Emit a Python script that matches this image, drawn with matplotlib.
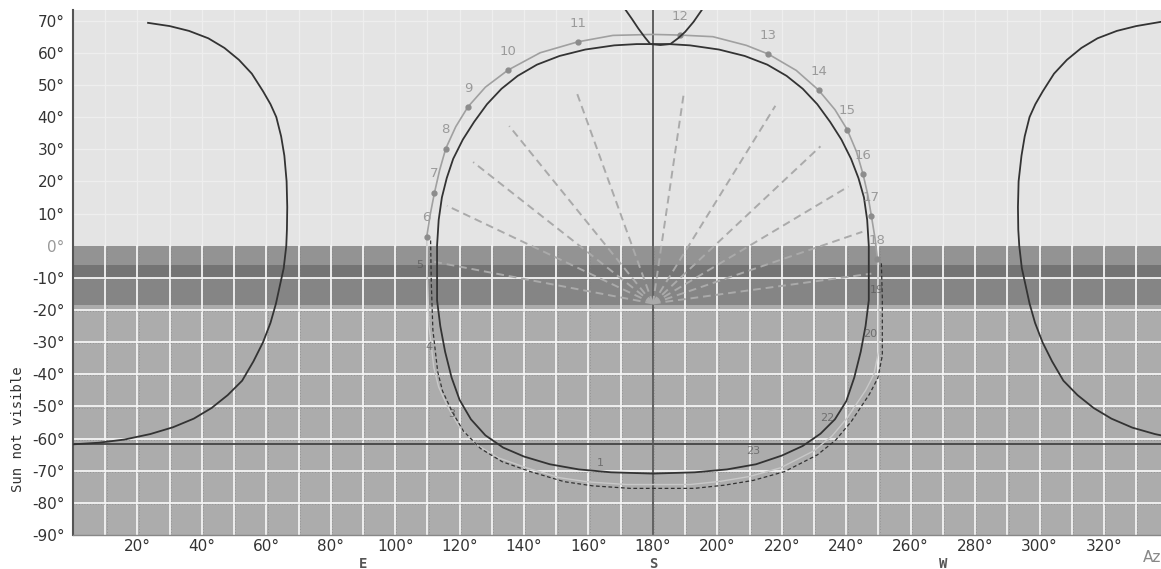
import matplotlib
matplotlib.use('Agg')
import matplotlib.pyplot as plt

# ----- data (azimuth deg, altitude deg) -----
HOURS = ['6', '7', '8', '9', '10', '11', '12', '13', '14', '15', '16', '17', '18']
HOUR_AZ = [109.8, 112.2, 115.7, 122.6, 135.0, 156.7, 188.5, 215.8, 231.4, 240.3, 245.2, 247.8, 249.7]
HOUR_ALT = [2.8, 16.5, 30.2, 43.2, 54.6, 63.4, 65.5, 59.6, 48.4, 36.1, 22.3, 9.3, -4.3]

# grey hour path (upper part, through the hour dots)
GREY_AZ = [109.8, 110.9, 112.2, 113.8, 115.7, 118.8, 122.6, 128.0, 135.0, 145.0, 156.7, 167.6,
           180.0, 188.5, 198.6, 209.0, 215.8, 224.5, 231.4, 236.5, 240.3, 243.2, 245.2, 246.7,
           247.8, 248.9, 249.7]
GREY_ALT = [2.8, 9.8, 16.5, 23.5, 30.2, 37.0, 43.2, 49.3, 54.6, 60.0, 63.4, 65.4,
            65.7, 65.5, 65.0, 62.3, 59.6, 54.5, 48.4, 42.3, 36.1, 29.2, 22.3, 15.8,
            9.3, 2.5, -4.3]

# dashed path below the horizon
LOW_AZ = [249.7, 250.0, 250.0, 248.6, 246.0, 240.3, 235.5, 229.8, 219.6, 210.0, 201.0, 191.6,
          171.9, 160.0, 151.2, 140.8, 132.0, 125.3, 120.0, 116.5, 113.5, 112.0, 110.5, 110.0, 109.8]
LOW_ALT = [-4.3, -15.0, -33.0, -40.0, -45.0, -53.6, -59.3, -63.9, -69.1, -71.8, -73.3, -74.3,
           -74.3, -73.5, -72.2, -69.1, -66.0, -61.9, -56.5, -50.5, -44.0, -38.0, -25.0, -10.0, 2.8]
LOW_HOURS = ['5', '4', '3', '1', '23', '22', '20', '19']
LOW_HOUR_AZ = [107.7, 110.5, 117.5, 163.6, 211.0, 234.0, 247.4, 249.5]
LOW_HOUR_ALT = [-6.0, -31.5, -52.5, -67.5, -64.0, -53.7, -27.4, -13.8]

# dark closed sun path
LOOP_AZ = [180, 175, 168, 159, 151, 144, 138, 133, 128.5, 124.5, 121, 118, 116, 114.5, 113.5, 113,
           113, 113, 114, 115.5, 117.5, 120, 123.5, 128, 133.5, 140, 148, 157, 167, 180,
           193, 203, 212, 220, 226.5, 232, 236.5, 240, 242.5, 244.5, 246, 247, 247, 247,
           246.5, 245.5, 243.8, 241.5, 238.5, 235, 231, 226.5, 221.5, 215.5, 208.5, 200.5,
           191.5, 185, 180]
LOOP_ALT = [62.7, 62.7, 62.3, 61, 59, 56.3, 52.8, 48.8, 44, 38.5, 33, 27, 21, 15, 8, 0,
            -10, -17, -25, -33, -41, -48, -54, -59, -62.8, -65.6, -68, -69.6, -70.5, -70.9,
            -70.5, -69.6, -68, -65.3, -62.3, -58.5, -54, -48.4, -41, -33, -25, -17, -10, 0,
            8, 15, 21, 27, 33, 38.5, 44, 48.8, 52.8, 56.3, 59, 61,
            62.3, 62.7, 62.7]

# curve near north (left and right edges)
LEFT_AZ = [23.3, 30, 36, 42, 47, 51.5, 55.5, 59, 61.3, 63.1, 64.6, 65.6, 66.3, 66.5, 66.4, 66.2,
           65.4, 64.3, 63, 61.3, 59, 56, 52.5, 48, 43, 37.5, 31, 24, 16, 8, 0]
LEFT_ALT = [69.3, 68.3, 66.8, 64.5, 61.5, 57.8, 53.5, 48, 44, 40, 34, 28, 20, 12, 5, 0,
            -7, -12, -18, -24, -30, -36, -42, -46.5, -50.5, -53.8, -56.5, -58.6, -60.3, -61.3, -61.8]
RIGHT_AZ = [337.6, 330, 324, 318, 313, 308.5, 304.5, 301, 298.7, 296.9, 295.4, 294.4, 293.5,
            293.3, 293.4, 293.7, 294.5, 295.6, 296.9, 298.6, 300.9, 303.9, 307.4, 311.8, 316.8,
            322.3, 328.8, 335.8, 337.7]
RIGHT_ALT = [69.6, 68.3, 66.8, 64.5, 61.5, 57.8, 53.5, 48, 44, 40, 34, 28, 20,
             12, 5, 0, -7, -12, -18, -24, -30, -36, -42, -46.5, -50.5,
             -53.8, -56.6, -58.6, -59.0]

# small loop at the top
TOP_AZ = [171.4, 173.5, 175.5, 177.5, 179.2, 182.3, 185.4, 187.8, 190.0, 192.6, 195.3]
TOP_ALT = [73.5, 70.5, 67.5, 64.8, 62.7, 62.4, 62.7, 64.5, 66.5, 69.6, 73.5]

# shadow rays from (180, -18)
RAY_CENTER = (180, -18)
RAY_AZ = [112.0, 116.1, 124.2, 135.4, 156.5, 189.6, 218.0, 232.0, 240.7, 245.0, 247.8]
RAY_ALT = [-5.0, 12.4, 26.0, 37.2, 47.2, 47.5, 43.5, 30.9, 18.4, 4.3, -8.7]

Y_TICKS = [70, 60, 50, 40, 30, 20, 10, 0, -10, -20, -30, -40, -50, -60, -70, -80, -90]
X_TICKS = [20, 40, 60, 80, 100, 120, 140, 160, 180, 200, 220, 240, 260, 280, 300, 320]
COMPASS = [(90, 'E'), (180, 'S'), (270, 'W')]

W, H = 1161, 569
fig = plt.figure(figsize=(W / 100, H / 100), dpi=100)
ax = fig.add_axes([73 / W, (H - 535) / H, (W - 73) / W, (535 - 10) / H])
ax.set_xlim(0, 337.7)
ax.set_ylim(-90, 73.3)

# background bands
ax.axhspan(0, 80, color='#e4e4e4', lw=0, zorder=0)
ax.axhspan(-6, 0, color='#939393', lw=0, zorder=0)
ax.axhspan(-10, -6, color='#747474', lw=0, zorder=0)
ax.axhspan(-18.5, -10, color='#858585', lw=0, zorder=0)
ax.axhspan(-90, -18.5, color='#acacac', lw=0, zorder=0)

# grids
for x in range(10, 340, 10):
    ax.plot([x, x], [0, 80], color='#eeeeee', lw=1, zorder=1)
    ax.plot([x, x], [-90, 0], color='#f4f4f4', lw=1.3, zorder=1)
    ax.plot([x + 0.4, x + 0.4], [-90, 0], color='#808080', lw=0.5, ls=(0, (1, 3)), zorder=1)
for y in range(10, 80, 10):
    ax.axhline(y, color='#eeeeee', lw=1, zorder=1)
for y in range(-80, 0, 10):
    ax.axhline(y, color='#f4f4f4', lw=1.3, zorder=1)
    ax.axhline(y - 0.35, color='#808080', lw=0.5, ls=(0, (1, 3)), zorder=1)

ax.axhline(-61.8, color='#444444', lw=1.3, zorder=2)
ax.axvline(180, color='#555555', lw=1.3, zorder=2)

# rays
for az, alt in zip(RAY_AZ, RAY_ALT):
    ax.plot([RAY_CENTER[0], az], [RAY_CENTER[1], alt], color='#aaaaaa', lw=1.4,
            ls=(0, (4, 2.5)), zorder=3)

# sun paths
ax.plot(LOW_AZ, LOW_ALT, color='#c8c8c8', lw=1.0, zorder=3)
ax.plot([a + 1.2 for a in LOW_AZ], [b - 1.2 for b in LOW_ALT], color='#333333', lw=0.9,
        ls=(0, (3, 2)), zorder=4)
ax.plot(GREY_AZ, GREY_ALT, color='#a0a0a0', lw=1.2, zorder=4)
ax.plot(HOUR_AZ, HOUR_ALT, 'o', color='#8c8c8c', ms=3.5, zorder=5)
for h, az, alt in zip(HOURS, HOUR_AZ, HOUR_ALT):
    ax.annotate(h, (az, alt), xytext=(0, 13.5), textcoords='offset points', ha='center',
                va='center', fontsize=9.5, color='#9a9a9a', zorder=6)
for h, az, alt in zip(LOW_HOURS, LOW_HOUR_AZ, LOW_HOUR_ALT):
    ax.text(az, alt, h, ha='center', va='center', fontsize=8, color='#555555', alpha=0.7, zorder=6)

ax.plot(LOOP_AZ, LOOP_ALT, color='#333333', lw=1.3, zorder=5)
ax.plot(LEFT_AZ, LEFT_ALT, color='#333333', lw=1.3, zorder=5)
ax.plot(RIGHT_AZ, RIGHT_ALT, color='#333333', lw=1.3, zorder=5)
ax.plot(TOP_AZ, TOP_ALT, color='#333333', lw=1.3, zorder=5)

# axes styling
for s in ['top', 'right']:
    ax.spines[s].set_visible(False)
ax.spines['left'].set_color('#555555')
ax.spines['left'].set_linewidth(1.5)
ax.spines['bottom'].set_color('#888888')
ax.spines['bottom'].set_linewidth(1.0)
ax.set_yticks(Y_TICKS)
ax.set_yticklabels([f'{v}\u00b0' for v in Y_TICKS])
ax.set_xticks(X_TICKS)
ax.set_xticklabels([f'{v}\u00b0' for v in X_TICKS])
ax.tick_params(axis='both', length=0, labelsize=11, labelcolor='#333333')
ax.tick_params(axis='y', pad=6)
ax.tick_params(axis='x', pad=3)
for lab in ax.get_yticklabels():
    if lab.get_text() == '0\u00b0':
        lab.set_color('#999999')

for az, letter in COMPASS:
    ax.annotate(letter, (az, -90), xytext=(0, -21), textcoords='offset points', ha='center',
                va='center', fontsize=10, fontweight='bold', color='#555555',
                family='DejaVu Sans Mono', annotation_clip=False)

fig.text(1143 / W, 1 - 557 / H, 'Az', ha='left', va='center', fontsize=11, color='#888888')
fig.text(18 / W, 1 - 429 / H, 'Sun not visible', rotation=90, ha='center', va='center',
         fontsize=10, color='#333333', family='DejaVu Sans Mono')

fig.savefig('out.png', dpi=100)
